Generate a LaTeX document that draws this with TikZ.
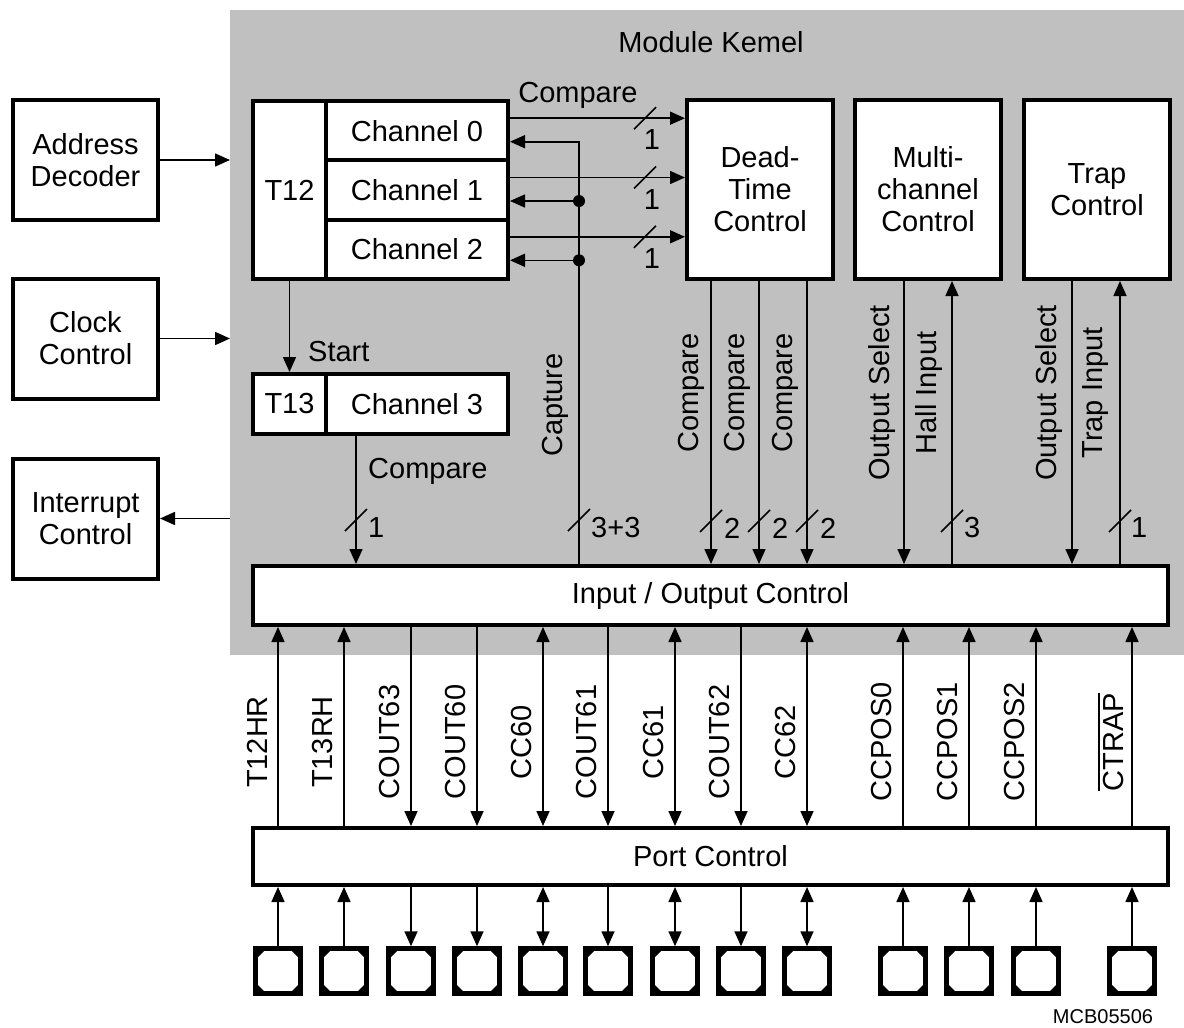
\documentclass[tikz,border=0pt]{standalone}
\usepackage{fontspec}
\setmainfont{Liberation Sans}
\usetikzlibrary{arrows.meta,calc}
\definecolor{kernelgray}{RGB}{192,192,192}
\begin{document}
\begin{tikzpicture}[x=1pt, y=-1pt, >={Triangle[length=15pt,width=13pt]},
		every node/.style={font=\fontsize{29}{32}\selectfont, inner sep=1pt},
		blockbox/.style={draw, line width=4pt, fill=white, align=center},
		sigline/.style={line width=1.6pt},
		vlabel/.style={rotate=90},
		padbox/.style={draw, line width=4.5pt, fill=white, minimum size=45pt, inner sep=0pt,
			path picture={
				\fill[black] (path picture bounding box.north west) -- ++(11pt,0pt) -- ++(-11pt,-11pt) -- cycle;
				\fill[black] (path picture bounding box.north east) -- ++(-11pt,0pt) -- ++(11pt,-11pt) -- cycle;
				\fill[black] (path picture bounding box.south west) -- ++(11pt,0pt) -- ++(-11pt,11pt) -- cycle;
				\fill[black] (path picture bounding box.south east) -- ++(-11pt,0pt) -- ++(11pt,11pt) -- cycle;
			}}]
		\useasboundingbox (0,0) rectangle (1184,1028);
		
		% 1. Module kernel area
		\node[fill=kernelgray, minimum width=954pt, minimum height=645pt, inner sep=0pt, anchor=north west] (kernel) at (230,10) {};
		\node (title) at (711,42) {Module Kemel};
		
		% 2. Outside blocks
		\node[blockbox, minimum width=145pt, minimum height=120pt] (addr) at (85.5,160) {Address\\Decoder};
		\node[blockbox, minimum width=145pt, minimum height=120pt] (clock) at (85.5,338.5) {Clock\\Control};
		\node[blockbox, minimum width=145pt, minimum height=120pt] (intr) at (85.5,518.5) {Interrupt\\Control};
		
		% 3. Timers and channels
		\node[blockbox, minimum width=73pt, minimum height=178pt] (t12) at (289.5,190) {T12};
		\node[blockbox, minimum width=182pt, minimum height=59.3pt] (ch0) at (417,130.7) {Channel 0};
		\node[blockbox, minimum width=182pt, minimum height=59.3pt] (ch1) at (417,190) {Channel 1};
		\node[blockbox, minimum width=182pt, minimum height=59.3pt] (ch2) at (417,249.3) {Channel 2};
		\node[blockbox, minimum width=73pt, minimum height=60pt] (t13) at (289.5,404) {T13};
		\node[blockbox, minimum width=182pt, minimum height=60pt] (ch3) at (417,404) {Channel 3};
		
		% 4. Control blocks
		\node[blockbox, minimum width=146pt, minimum height=179pt] (dt) at (760,189.5) {Dead-\\Time\\Control};
		\node[blockbox, minimum width=146pt, minimum height=179pt] (multi) at (928,189.5) {Multi-\\channel\\Control};
		\node[blockbox, minimum width=146pt, minimum height=179pt] (trap) at (1097,189.5) {Trap\\Control};
		\node[blockbox, minimum width=915pt, minimum height=59pt] (io) at (710.5,595.5) {Input / Output Control};
		\node[blockbox, minimum width=915pt, minimum height=57pt] (port) at (710.5,856.5) {Port Control};
		
		% 5. Pads
		\foreach \px [count=\i] in {278,344,411,477,543,608,675,741,807,903,969,1036,1132}
			\node[padbox] (pad\i) at (\px,971) {};
		
		% 6. Links to the outside blocks
		\draw[sigline,->] (addr.east) -- (addr.east -| kernel.west);
		\draw[sigline,->] (clock.east) -- (clock.east -| kernel.west);
		\draw[sigline,->] (intr.east -| kernel.west) -- (intr.east);
		
		% 7. T12 to T13 and channel lines
		\draw[sigline,->] (t12.south) -- (t13.north);
		\node[anchor=west] (start) at (307,352) {Start};
		\draw[sigline,->] ([yshift=12.5pt]ch0.east) -- ([yshift=12.5pt]ch0.east -| dt.west);
		\draw[sigline,->] ([yshift=12.5pt]ch1.east) -- ([yshift=12.5pt]ch1.east -| dt.west);
		\draw[sigline,->] ([yshift=12.5pt]ch2.east) -- ([yshift=12.5pt]ch2.east -| dt.west);
		\node (cmptop) at (578,95) {Compare};
		\coordinate (capbot) at (579,566);
		\draw[sigline,->] (capbot) |- ([yshift=-11pt]ch0.east);
		\draw[sigline,->] ([yshift=-11pt]ch1.east -| capbot) -- ([yshift=-11pt]ch1.east);
		\draw[sigline,->] ([yshift=-11pt]ch2.east -| capbot) -- ([yshift=-11pt]ch2.east);
		\fill ([yshift=-11pt]ch1.east -| capbot) circle (6pt);
		\fill ([yshift=-11pt]ch2.east -| capbot) circle (6pt);
		\node[vlabel] (caplabel) at (555,405) {Capture};
		\coordinate (c3out) at ([xshift=-61pt]ch3.south);
		\draw[sigline,->] (c3out) -- (c3out |- io.north);
		\node[anchor=west] (cmpt13) at (367,471) {Compare};
		
		% 8. Control block lines
		\coordinate (dt1) at ([xshift=-49pt]dt.south);
		\coordinate (dt2) at ([xshift=-1pt]dt.south);
		\coordinate (dt3) at ([xshift=47pt]dt.south);
		\draw[sigline,->] (dt1) -- (dt1 |- io.north);
		\draw[sigline,->] (dt2) -- (dt2 |- io.north);
		\draw[sigline,->] (dt3) -- (dt3 |- io.north);
		\node[vlabel] at (691,393) {Compare};
		\node[vlabel] at (737,393) {Compare};
		\node[vlabel] at (785,393) {Compare};
		\coordinate (mc1) at ([xshift=-24pt]multi.south);
		\coordinate (mc2) at ([xshift=24pt]multi.south);
		\draw[sigline,->] (mc1) -- (mc1 |- io.north);
		\draw[sigline,->] (mc2 |- io.north) -- (mc2);
		\node[vlabel] at (882,393) {Output Select};
		\node[vlabel] at (929,393) {Hall Input};
		\coordinate (tc1) at ([xshift=-25pt]trap.south);
		\coordinate (tc2) at ([xshift=23pt]trap.south);
		\draw[sigline,->] (tc1) -- (tc1 |- io.north);
		\draw[sigline,->] (tc2 |- io.north) -- (tc2);
		\node[vlabel] at (1049,393) {Output Select};
		\node[vlabel] at (1096,393) {Trap Input};
		
		% 9. Bus width marks
		\foreach \c in {(645,118.2),(645,177.5),(645,236.8),(356,520),(579,520),(711,521),(759,521),(807,521),(952,521),(1120,521)}
			\draw[sigline] \c ++(-11,11) -- ++(22,-22);
		\node at (652,140) {1};
		\node at (652,200) {1};
		\node at (652,259) {1};
		\node[anchor=west] at (367,528) {1};
		\node[anchor=west] at (590,528) {3+3};
		\node[anchor=west] at (723,528) {2};
		\node[anchor=west] at (771,528) {2};
		\node[anchor=west] at (819,528) {2};
		\node[anchor=west] at (963,528) {3};
		\node[anchor=west] at (1130,528) {1};
		
		% 10. Port signals
		\foreach \i in {1,2,10,11,12,13} {
			\draw[sigline,->] (port.north -| pad\i) -- (io.south -| pad\i);
			\draw[sigline,->] (pad\i.north) -- (port.south -| pad\i);
		}
		\foreach \i in {3,4,6,8} {
			\draw[sigline,->] (io.south -| pad\i) -- (port.north -| pad\i);
			\draw[sigline,->] (port.south -| pad\i) -- (pad\i.north);
		}
		\foreach \i in {5,7,9} {
			\draw[sigline,<->] (io.south -| pad\i) -- (port.north -| pad\i);
			\draw[sigline,<->] (port.south -| pad\i) -- (pad\i.north);
		}
		\foreach \i/\name in {1/T12HR,2/T13RH,3/COUT63,4/COUT60,5/CC60,6/COUT61,7/CC61,8/COUT62,9/CC62,10/CCPOS0,11/CCPOS1,12/CCPOS2,13/{\vbox{\hrule height 1.6pt\kern 3pt\hbox{CTRAP}}}}
			\node[vlabel] (sig\i) at ($(pad\i.center)+(-21,-229)$) {\name};
		
		\node[font=\fontsize{20}{22}\selectfont] (mcb) at (1103,1017) {MCB05506};
	\end{tikzpicture}
\end{document}
